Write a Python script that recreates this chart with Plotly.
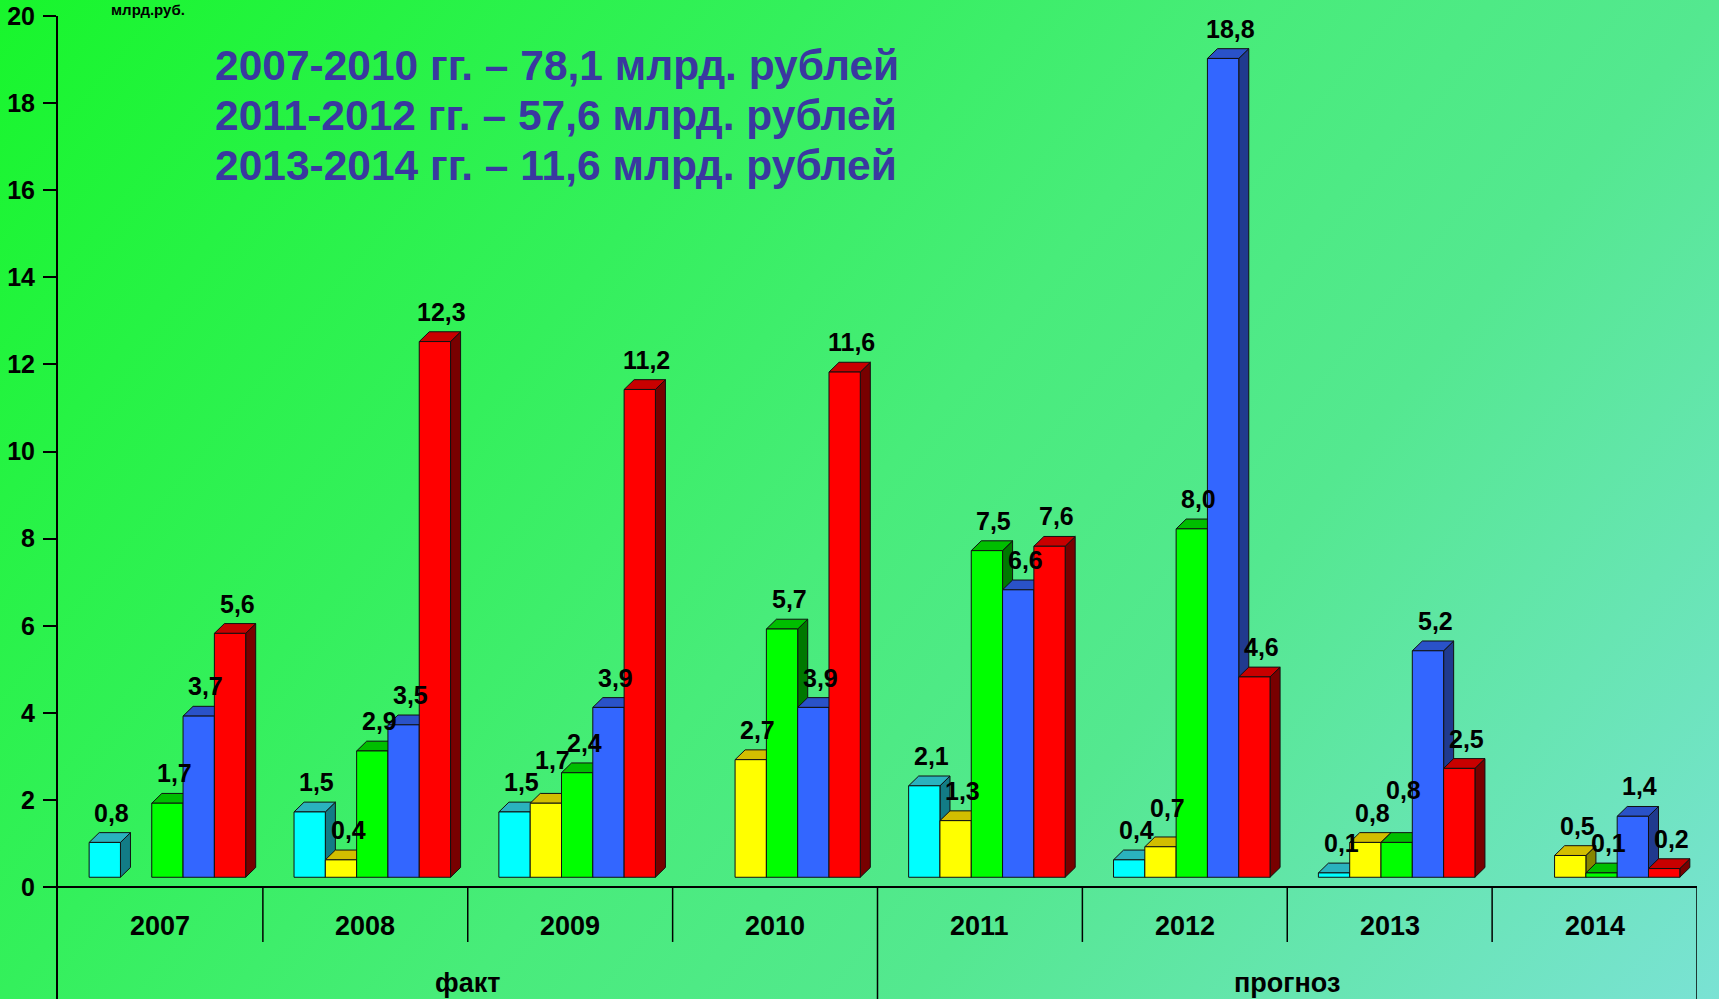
import base64
import plotly.graph_objects as go

# ---------------- data ----------------
years = ["2007", "2008", "2009", "2010", "2011", "2012", "2013", "2014"]
series_names = ["Ряд 1", "Ряд 2", "Ряд 3", "Ряд 4", "Ряд 5"]
cyan_vals = [0.8, 1.5, 1.5, None, 2.1, 0.4, 0.1, None]
yellow_vals = [None, 0.4, 1.7, 2.7, 1.3, 0.7, 0.8, 0.5]
green_vals = [1.7, 2.9, 2.4, 5.7, 7.5, 8.0, 0.8, 0.1]
blue_vals = [3.7, 3.5, 3.9, 3.9, 6.6, 18.8, 5.2, 1.4]
red_vals = [5.6, 12.3, 11.2, 11.6, 7.6, 4.6, 2.5, 0.2]
y_ticks = [0, 2, 4, 6, 8, 10, 12, 14, 16, 18, 20]
period_labels = ["факт", "прогноз"]
period_spans = [(0, 3), (4, 7)]
summary_lines = [
    "2007-2010 гг. – 78,1 млрд. рублей",
    "2011-2012 гг. – 57,6 млрд. рублей",
    "2013-2014 гг. – 11,6 млрд. рублей",
]
unit_label = "млрд.руб."

all_series = [cyan_vals, yellow_vals, green_vals, blue_vals, red_vals]

# ---------------- styles ----------------
front_colors = ["#00FFFF", "#FFFF00", "#00FF00", "#3366FF", "#FF0000"]
top_colors = ["#2AB2BE", "#D2BE00", "#00BE00", "#2A52C8", "#C80000"]
side_colors = ["#127C86", "#868600", "#007800", "#203A8E", "#780000"]
edge = "#111111"
title_color = "#3A38A0"
FONT = "Liberation Sans, Arial, sans-serif"
LABEL_SIZE = 25

W = 0.1528      # bar width (category units)
OFF = 0.034     # group centre shift
DX = 0.049      # 3D depth, x
DY = 0.225      # 3D depth, y (value units)
Y_MIN, Y_MAX = -2.57, 20
X_MIN, X_MAX = -0.5, 7.5

# ---------------- background gradient ----------------
svg = (
    '<svg xmlns="http://www.w3.org/2000/svg" width="1719" height="999" '
    'viewBox="0 0 1719 999" preserveAspectRatio="none">'
    '<defs><linearGradient id="g" gradientUnits="userSpaceOnUse" '
    'x1="0" y1="0" x2="1527" y2="1236">'
    '<stop offset="0" stop-color="rgb(24,246,44)"/>'
    '<stop offset="0.32" stop-color="rgb(52,240,92)"/>'
    '<stop offset="0.5" stop-color="rgb(72,236,122)"/>'
    '<stop offset="0.68" stop-color="rgb(84,232,144)"/>'
    '<stop offset="1" stop-color="rgb(122,226,212)"/>'
    '</linearGradient></defs>'
    '<rect x="0" y="0" width="1719" height="999" fill="url(#g)"/></svg>'
)
bg_uri = "data:image/svg+xml;base64," + base64.b64encode(svg.encode()).decode()

fig = go.Figure()

ML, MR, MT, MB = 58, 22, 16, 0
PW, PH = 1719 - ML - MR, 999 - MT - MB
PX_PER_UNIT = PH / (Y_MAX - Y_MIN)

def bar_x(i, j):
    return i + OFF + (j - 2) * W

# side faces, then top faces (base subplot)
for j, vals in enumerate(all_series):
    xs, ys = [], []
    for i, v in enumerate(vals):
        if v is None:
            continue
        x1 = bar_x(i, j) + W / 2
        b, t = DY, v + DY
        xs += [x1, x1 + DX, x1 + DX, x1, x1, None]
        ys += [b, b + DY, t + DY, t, b, None]
    fig.add_trace(go.Scatter(x=xs, y=ys, mode="lines", fill="toself",
                             fillcolor=side_colors[j],
                             line=dict(color=edge, width=1),
                             hoverinfo="skip", showlegend=False,
                             xaxis="x", yaxis="y"))
for j, vals in enumerate(all_series):
    xs, ys = [], []
    for i, v in enumerate(vals):
        if v is None:
            continue
        x0 = bar_x(i, j) - W / 2
        x1 = x0 + W
        t = v + DY
        xs += [x0, x1, x1 + DX, x0 + DX, x0, None]
        ys += [t, t, t + DY, t + DY, t, None]
    fig.add_trace(go.Scatter(x=xs, y=ys, mode="lines", fill="toself",
                             fillcolor=top_colors[j],
                             line=dict(color=edge, width=1),
                             hoverinfo="skip", showlegend=False,
                             xaxis="x", yaxis="y"))

# front faces (overlay subplot, drawn above)
for j, vals in enumerate(all_series):
    fig.add_trace(go.Bar(
        x=[bar_x(i, j) for i in range(len(years))],
        y=vals,
        base=DY,
        width=W,
        name=series_names[j],
        marker=dict(color=front_colors[j], line=dict(color=edge, width=1)),
        showlegend=False,
        xaxis="x2", yaxis="y2",
    ))

annotations = []
# data labels, nudged up when they would collide with the left neighbour
label_h = LABEL_SIZE * 1.05
for i in range(len(years)):
    prev_px = None
    for j, vals in enumerate(all_series):
        v = vals[i]
        if v is None:
            prev_px = None
            continue
        base_shift = 4
        bottom_px = (v + 2 * DY) * PX_PER_UNIT + base_shift
        if prev_px is not None and abs(bottom_px - prev_px) < label_h * 0.6:
            bottom_px = prev_px + label_h * 0.85
        annotations.append(dict(
            x=bar_x(i, j) + DX / 2 + 0.01, y=v + 2 * DY, xref="x", yref="y",
            text=f"<b>{v:.1f}</b>".replace(".", ","), showarrow=False,
            yanchor="bottom", xanchor="center",
            yshift=bottom_px - (v + 2 * DY) * PX_PER_UNIT,
            font=dict(family=FONT, size=LABEL_SIZE, color="black")))
        prev_px = bottom_px
# category labels
for i, yr in enumerate(years):
    annotations.append(dict(x=i, y=-0.9, xref="x", yref="y", text=f"<b>{yr}</b>",
                            showarrow=False, yanchor="middle",
                            font=dict(family=FONT, size=27, color="black")))
# period labels
for lab, (a, b) in zip(period_labels, period_spans):
    annotations.append(dict(x=(a + b) / 2, y=-2.2, xref="x", yref="y",
                            text=f"<b>{lab}</b>", showarrow=False,
                            yanchor="middle",
                            font=dict(family=FONT, size=27, color="black")))
# summary text
for k, line in enumerate(summary_lines):
    ypix = [65, 115, 166][k]
    annotations.append(dict(x=(213 - ML) / PW, y=(999 - ypix) / PH,
                            xref="paper", yref="paper", text=f"<b>{line}</b>",
                            showarrow=False, xanchor="left", yanchor="middle",
                            font=dict(family=FONT, size=42.5, color=title_color)))
# unit label at top
annotations.append(dict(x=(148 - ML) / PW, y=(999 - 0) / PH, xref="paper",
                        yref="paper", text=f"<b>{unit_label}</b>",
                        showarrow=False, xanchor="center", yanchor="top",
                        borderpad=0,
                        font=dict(family=FONT, size=15, color="black")))

# separators below axis
shapes = []
for i in range(len(years)):
    xb = i + 0.5
    long = any(xb == b + 0.5 for _, b in period_spans)
    shapes.append(dict(type="line", xref="x", yref="y", x0=xb, x1=xb,
                       y0=0, y1=(Y_MIN if long else -1.26),
                       line=dict(color="black", width=1.5)))

fig.update_layout(
    width=1719, height=999, autosize=False,
    margin=dict(l=ML, r=MR, t=MT, b=MB),
    paper_bgcolor="rgb(52,240,100)",
    plot_bgcolor="rgba(0,0,0,0)",
    barmode="overlay",
    showlegend=False,
    xaxis=dict(range=[X_MIN, X_MAX], showgrid=False, zeroline=False,
               showticklabels=False, ticks="", showline=False, fixedrange=True),
    yaxis=dict(range=[Y_MIN, Y_MAX], tickvals=y_ticks, ticktext=[str(t) for t in y_ticks],
               showgrid=False, zeroline=True, zerolinecolor="black", zerolinewidth=2,
               showline=True, linecolor="black", linewidth=2,
               ticks="outside", ticklen=13, tickwidth=1.5, tickcolor="black",
               ticklabelstandoff=3,
               tickfont=dict(family=FONT, size=25, color="black", weight="bold"),
               fixedrange=True),
    xaxis2=dict(range=[X_MIN, X_MAX], overlaying="x", visible=False, fixedrange=True),
    yaxis2=dict(range=[Y_MIN, Y_MAX], overlaying="y", visible=False, fixedrange=True),
    annotations=annotations,
    shapes=shapes,
    images=[dict(source=bg_uri, xref="paper", yref="paper",
                 x=-ML / PW, y=1 + MT / PH, sizex=1719 / PW, sizey=999 / PH,
                 xanchor="left", yanchor="top", sizing="stretch", layer="below")],
)

fig.write_html("out.html", config={"displayModeBar": False},
               post_script="document.body.style.margin='0';document.body.style.overflow='hidden';")
